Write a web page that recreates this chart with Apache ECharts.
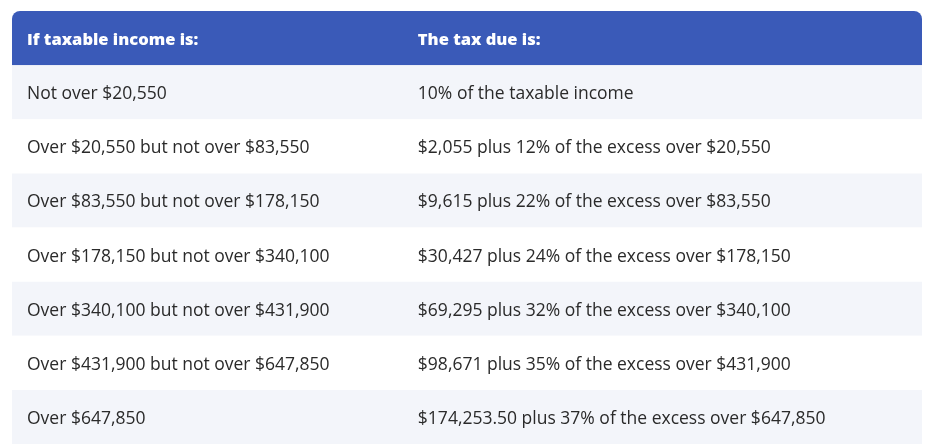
<!DOCTYPE html><html><head><meta charset="utf-8"><script src="https://cdn.jsdelivr.net/npm/echarts@6/dist/echarts.min.js"></script>
<style>html,body{margin:0;background:#fff}#c{width:936px;height:444px}</style></head><body><div id="c"></div><script>
const headers=["If taxable income is:","The tax due is:"];
const incomeCol=["Not over $20,550","Over $20,550 but not over $83,550","Over $83,550 but not over $178,150","Over $178,150 but not over $340,100","Over $340,100 but not over $431,900","Over $431,900 but not over $647,850","Over $647,850"];
const taxCol=["10% of the taxable income","$2,055 plus 12% of the excess over $20,550","$9,615 plus 22% of the excess over $83,550","$30,427 plus 24% of the excess over $178,150","$69,295 plus 32% of the excess over $340,100","$98,671 plus 35% of the excess over $431,900","$174,253.50 plus 37% of the excess over $647,850"];
const rows=[headers].concat(incomeCol.map((v,i)=>[v,taxCol[i]]));
const cats=rows.map((r,i)=>'r'+i);
const chart=echarts.init(document.getElementById('c'));
chart.setOption({animation:false,
grid:{left:12,right:14,top:11,bottom:0},
xAxis:{type:'value',min:0,max:1,show:false},
yAxis:{type:'category',data:cats,inverse:true,show:false},
series:[{type:'custom',data:rows.map((r,i)=>[0,i,r[0],r[1]]),
renderItem:function(params,api){
 const i=api.value(1);
 const p0=api.coord([0,i]);const p1=api.coord([1,i]);
 const h=api.size([0,1])[1];
 const x=p0[0],w=p1[0]-p0[0],y=p0[1]-h/2;
 const hdr=i===0;
 const fill=hdr?'#3a5ab8':(i%2===1?'#f3f5fa':'#ffffff');
 const col2=x+w*0.446;
 const font=hdr?'800 16.5px "Open Sans", sans-serif':'17.5px "Open Sans", sans-serif';
 const color=hdr?'#ffffff':'#2a2a2a';
 return {type:'group',children:[
  {type:'rect',shape:{x:x,y:y,width:w,height:h,r:hdr?[8,8,0,0]:0},style:{fill:fill}},
  {type:'text',style:{x:x+15,y:y+h/2+2,text:rows[i][0],font:font,fill:color,verticalAlign:'middle'}},
  {type:'text',style:{x:col2,y:y+h/2+2,text:rows[i][1],font:font,fill:color,verticalAlign:'middle'}}
 ]};
}}]});
</script></body></html>
